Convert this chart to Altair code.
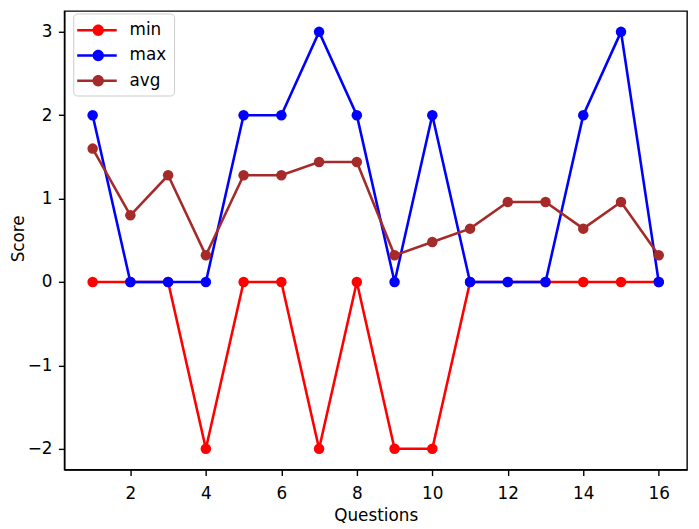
import altair as alt
import pandas as pd

questions = list(range(1, 17))
min_scores = [0, 0, 0, -2, 0, 0, -2, 0, -2, -2, 0, 0, 0, 0, 0, 0]
max_scores = [2, 0, 0, 0, 2, 2, 3, 2, 0, 2, 0, 0, 0, 2, 3, 0]
avg_scores = [1.6, 0.8, 1.28, 0.32, 1.28, 1.28, 1.44, 1.44, 0.32, 0.48, 0.64, 0.96, 0.96, 0.64, 0.96, 0.32]

series_names = ["min", "max", "avg"]
series_colors = ["#ff0000", "#0000ff", "#a52a2a"]
x_ticks = [2, 4, 6, 8, 10, 12, 14, 16]
y_ticks = [-2, -1, 0, 1, 2, 3]

frames = []
for name, vals in zip(series_names, [min_scores, max_scores, avg_scores]):
    frames.append(pd.DataFrame({"Questions": questions, "Score": vals, "series": name}))
all_df = pd.concat(frames, ignore_index=True)

FONT = "DejaVu Sans"
FS = 17

xscale = alt.Scale(domain=[0.25, 16.75], nice=False, zero=False)
yscale = alt.Scale(domain=[-2.25, 3.25], nice=False, zero=False)
cscale = alt.Scale(domain=series_names, range=series_colors)

xaxis = alt.Axis(values=x_ticks, grid=False, title="Questions", titleY=51.5,
                 titleBaseline="alphabetic", labelBaseline="alphabetic", labelPadding=23.5)
yaxis = alt.Axis(values=y_ticks, grid=False, title="Score", titleX=-41, titleY=230,
                 titleBaseline="alphabetic", labelPadding=6.5)

legend_path = ("M-1.3,-0.13H2.7V0.13H-1.3Z "
               "M1.405,0A0.575,0.575 0 1,1 0.255,0A0.575,0.575 0 1,1 1.405,0Z")
legend = alt.Legend(
    title=None, orient="none", legendX=9, legendY=2.5,
    symbolType=legend_path, symbolSize=400, symbolStrokeWidth=0,
    symbolOpacity=1, labelOffset=30, padding=7, rowPadding=7.5,
    fillColor="white", strokeColor="#cccccc", cornerRadius=4,
    labelFont=FONT, labelFontSize=FS, labelColor="black",
)

X = alt.X("Questions:Q", scale=xscale, axis=xaxis)
Y = alt.Y("Score:Q", scale=yscale, axis=yaxis)
C = alt.Color("series:N", scale=cscale, legend=legend)

# empty first layer: carries the legend (filled symbols), draws nothing
legend_layer = alt.Chart(all_df).transform_filter("false").mark_point(
    filled=True, size=113).encode(x=X, y=Y, color=C)

layers = [legend_layer]
for df in frames:
    base = alt.Chart(df)
    line = base.mark_line(strokeWidth=2.6).encode(x=X, y=Y, color=C)
    pts = base.mark_point(filled=True, size=113, opacity=1).encode(x=X, y=Y, color=C)
    layers += [line, pts]

chart = alt.layer(*layers).properties(
    width=630, height=464,
    autosize=alt.AutoSizeParams(type="none"),
    padding={"left": 57, "top": 0, "right": 4, "bottom": 57},
).configure_view(
    stroke="black", strokeWidth=1.4
).configure_axis(
    domainColor="black", domainWidth=1.4, tickColor="black", tickWidth=1.4, tickSize=6,
    labelFont=FONT, labelFontSize=FS, labelColor="black",
    titleFont=FONT, titleFontSize=FS, titleColor="black", titleFontWeight="normal",
)

chart.save("out.html", embed_options={"renderer": "svg", "actions": False})
